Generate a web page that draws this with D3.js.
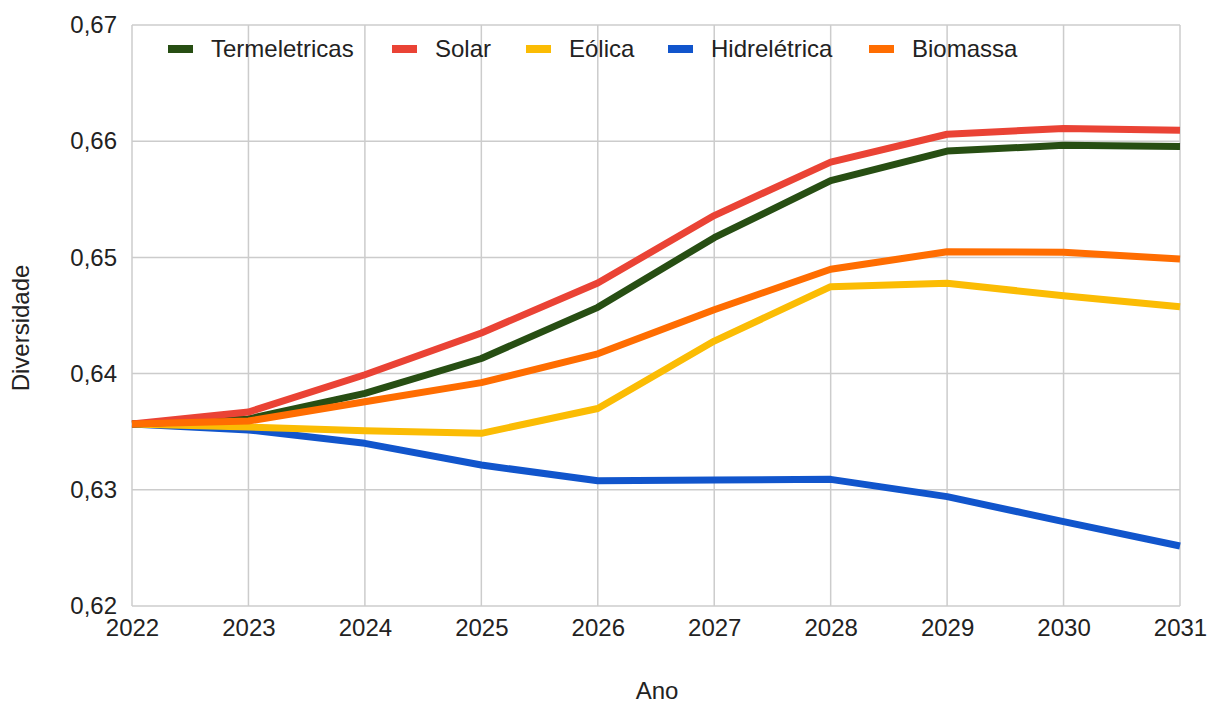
<!DOCTYPE html>
<html>
<head>
<meta charset="utf-8">
<script src="https://cdn.jsdelivr.net/npm/d3@7"></script>
<style>
  html, body { margin: 0; padding: 0; background: #fff; }
  svg { display: block; font-family: "Liberation Sans", Arial, sans-serif; }
</style>
</head>
<body>
<svg id="chart" width="1210" height="703"></svg>
<script>
// Anos e índice de diversidade por fonte
const years = [2022, 2023, 2024, 2025, 2026, 2027, 2028, 2029, 2030, 2031];
const seriesNames = ["Termeletricas", "Solar", "Eólica", "Hidrelétrica", "Biomassa"];
const seriesColors = ["#274e13", "#ea4335", "#fbbc04", "#1155cc", "#ff6d01"];
const termeletricas = [0.63566, 0.63610, 0.63830, 0.64130, 0.64570, 0.65170, 0.65660, 0.65915, 0.65965, 0.65955];
const solar         = [0.63566, 0.63669, 0.63990, 0.64350, 0.64780, 0.65360, 0.65820, 0.66060, 0.66110, 0.66095];
const eolica        = [0.63566, 0.63540, 0.63509, 0.63486, 0.63700, 0.64280, 0.64748, 0.64777, 0.64670, 0.64576];
const hidreletrica  = [0.63566, 0.63515, 0.63400, 0.63213, 0.63078, 0.63084, 0.63090, 0.62941, 0.62726, 0.62516];
const biomassa      = [0.63566, 0.63592, 0.63758, 0.63922, 0.64170, 0.64550, 0.64898, 0.65049, 0.65044, 0.64986];
const seriesValues = [termeletricas, solar, eolica, hidreletrica, biomassa];
const yTicks = [0.62, 0.63, 0.64, 0.65, 0.66, 0.67];

const svg = d3.select("#chart");
const plot = { left: 132, right: 1180, top: 25, bottom: 606 };
const textColor = "#222";
const fontSize = 24;

const x = d3.scaleLinear().domain([2022, 2031]).range([plot.left, plot.right]);
const y = d3.scaleLinear().domain([0.62, 0.67]).range([plot.bottom, plot.top]);
const fmt = v => d3.format(".2f")(v).replace(".", ",");

// Grade
const grid = svg.append("g");
grid.selectAll("line.h").data(yTicks).join("line")
  .attr("x1", plot.left).attr("x2", plot.right)
  .attr("y1", d => y(d)).attr("y2", d => y(d))
  .attr("stroke", "#cccccc").attr("stroke-width", 1.5);
grid.selectAll("line.v").data(years).join("line")
  .attr("y1", plot.top).attr("y2", plot.bottom)
  .attr("x1", d => x(d)).attr("x2", d => x(d))
  .attr("stroke", "#cccccc").attr("stroke-width", 1.5);

// Eixo Y
const yAxis = svg.append("g")
  .attr("transform", `translate(${plot.left},0)`)
  .call(d3.axisLeft(y).tickValues(yTicks).tickFormat(fmt).tickSize(0).tickPadding(15));
yAxis.select(".domain").remove();
yAxis.selectAll("text").attr("font-size", fontSize).attr("fill", textColor)
  .attr("font-family", "Liberation Sans, Arial, sans-serif");

// Eixo X
const xAxis = svg.append("g")
  .attr("transform", `translate(0,${plot.bottom})`)
  .call(d3.axisBottom(x).tickValues(years).tickFormat(d3.format("d")).tickSize(0).tickPadding(13));
xAxis.select(".domain").remove();
xAxis.selectAll("text").attr("font-size", fontSize).attr("fill", textColor)
  .attr("font-family", "Liberation Sans, Arial, sans-serif");

// Títulos dos eixos
svg.append("text").attr("x", 657).attr("y", 699).attr("text-anchor", "middle")
  .attr("font-size", fontSize).attr("fill", textColor).text("Ano");
svg.append("text").attr("transform", "translate(29,328) rotate(-90)").attr("text-anchor", "middle")
  .attr("font-size", fontSize).attr("fill", textColor).text("Diversidade");

// Linhas
const line = d3.line().x((d, i) => x(years[i])).y(d => y(d));
const drawOrder = [3, 2, 0, 1, 4];
svg.append("g").selectAll("path").data(drawOrder).join("path")
  .attr("d", i => line(seriesValues[i]))
  .attr("fill", "none")
  .attr("stroke", i => seriesColors[i])
  .attr("stroke-width", 7)
  .attr("stroke-linejoin", "round");

// Legenda
const legendX = [168, 392, 526, 668, 869];
const legend = svg.append("g").selectAll("g").data(seriesNames).join("g")
  .attr("transform", (d, i) => `translate(${legendX[i]},49)`);
legend.append("rect").attr("x", 0).attr("y", -4).attr("width", 25).attr("height", 8)
  .attr("fill", (d, i) => seriesColors[i]);
legend.append("text").attr("x", 43).attr("y", 8).attr("font-size", fontSize)
  .attr("fill", textColor).text(d => d);
</script>
</body>
</html>
